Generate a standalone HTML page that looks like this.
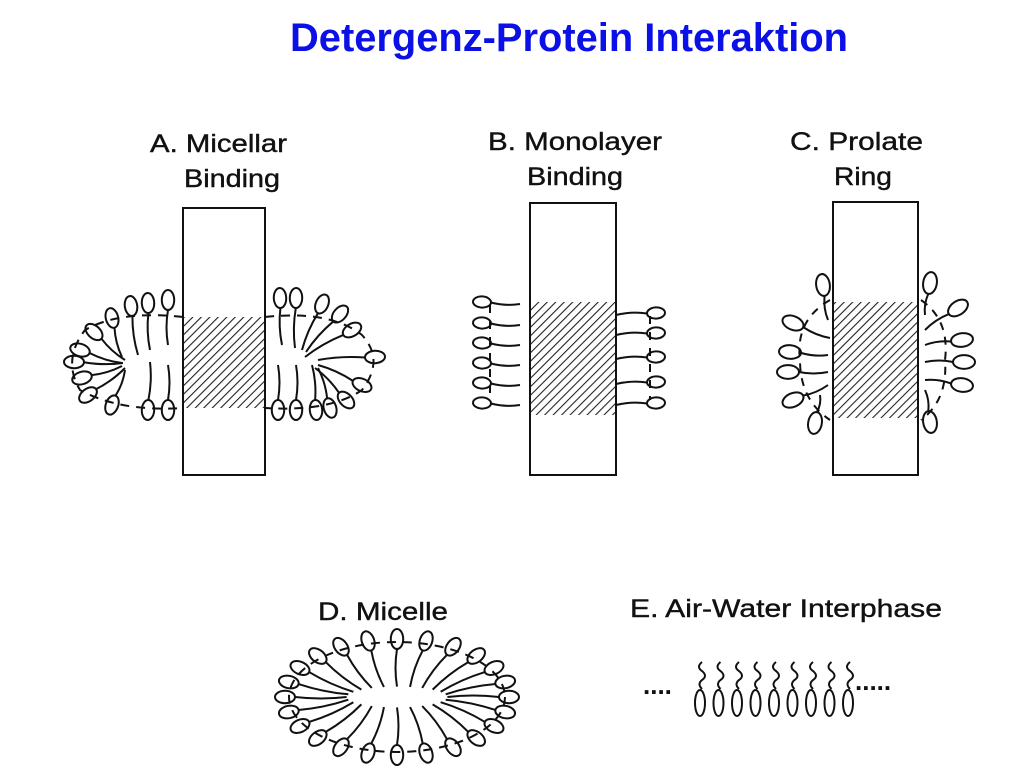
<!DOCTYPE html>
<html><head><meta charset="utf-8"><style>
html,body{margin:0;padding:0;background:#fff;}
svg{display:block;}
text{font-family:"Liberation Sans",Arial,sans-serif;}
</style></head><body>
<svg id="s" width="1036" height="772" viewBox="0 0 1036 772" xmlns="http://www.w3.org/2000/svg">
<defs>
<pattern id="h" patternUnits="userSpaceOnUse" width="6" height="6" patternTransform="rotate(45)">
<line x1="0" y1="0" x2="0" y2="6" stroke="#222" stroke-width="2.2"/>
</pattern>
</defs>
<text x="290" y="51" font-size="40" font-weight="bold" fill="#0a10e6" textLength="558" lengthAdjust="spacingAndGlyphs">Detergenz-Protein Interaktion</text>
<g font-size="25" fill="#111" stroke="#111" stroke-width="0.4">
<text x="150" y="152" textLength="137" lengthAdjust="spacingAndGlyphs">A. Micellar</text>
<text x="184" y="187" textLength="96" lengthAdjust="spacingAndGlyphs">Binding</text>
<text x="488" y="150" textLength="174" lengthAdjust="spacingAndGlyphs">B. Monolayer</text>
<text x="527" y="185" textLength="96" lengthAdjust="spacingAndGlyphs">Binding</text>
<text x="790" y="150" textLength="133" lengthAdjust="spacingAndGlyphs">C. Prolate</text>
<text x="834" y="185" textLength="58" lengthAdjust="spacingAndGlyphs">Ring</text>
<text x="318" y="620" textLength="130" lengthAdjust="spacingAndGlyphs">D. Micelle</text>
<text x="630" y="617" textLength="312" lengthAdjust="spacingAndGlyphs">E. Air-Water Interphase</text>
</g>
<g fill="none" stroke="#111" stroke-width="2">
<rect x="183" y="208" width="82" height="267"/>
<rect x="184" y="317" width="80" height="91" fill="url(#h)" stroke="none"/>
<rect x="530" y="203" width="86" height="272"/>
<rect x="531" y="302" width="84" height="113" fill="url(#h)" stroke="none"/>
<rect x="833" y="202" width="85" height="273"/>
<rect x="834" y="302" width="83" height="116" fill="url(#h)" stroke="none"/>
</g>
<g id="g" fill="none" stroke="#111" stroke-width="2"></g>
<g fill="#111" font-size="26" font-weight="bold"><text x="643" y="694">....</text><text x="855" y="690">.....</text></g>
</svg>
<script>
var g=document.getElementById('g'),NS='http://www.w3.org/2000/svg';
function el(t,a){var e=document.createElementNS(NS,t);for(var k in a)e.setAttribute(k,a[k]);g.appendChild(e);return e;}
// head center (hx,hy), tail end (tx,ty)
function lp(hx,hy,tx,ty,hr){hr=hr||9;var dx=tx-hx,dy=ty-hy,d=Math.sqrt(dx*dx+dy*dy),c=dx/d,s=dy/d;
 var ang=Math.atan2(dy,dx)*180/Math.PI;
 el('ellipse',{cx:hx,cy:hy,rx:hr,ry:hr*0.62,transform:'rotate('+ang+' '+hx+' '+hy+')'});
 var x=hx+c*hr,y=hy+s*hr,mx=(x+tx)/2-s*3,my=(y+ty)/2+c*3;
 el('path',{d:'M'+x+' '+y+' Q'+mx+' '+my+' '+tx+' '+ty});}
// A
el('path',{d:'M183 317 Q120 310 85 330 Q62 360 80 390 Q120 412 183 408','stroke-dasharray':'9 7'});
el('path',{d:'M265 317 Q330 310 362 335 Q385 360 362 390 Q330 412 265 408','stroke-dasharray':'9 7'});
[[168,300,168,345],[148,303,150,350],[131,306,138,355],[112,318,122,357],[94,332,125,360],[80,350,122,363],[74,362,123,363],[82,378,122,366],[88,395,125,368],[112,405,125,370],[148,410,150,362],[168,410,168,365]].forEach(function(p){lp(p[0],p[1],p[2],p[3],10);});
[[280,298,282,345],[296,298,295,348],[322,304,302,350],[340,314,306,352],[352,330,305,357],[375,357,318,360],[362,385,318,365],[346,400,315,368],[330,408,318,368],[316,410,312,365],[296,410,296,365],[278,410,278,365]].forEach(function(p){lp(p[0],p[1],p[2],p[3],10);});
// B
[302,323,343,363,383,403].forEach(function(y){lp(482,y,520,y+2,9);});
el('line',{x1:490,y1:305,x2:490,y2:400,'stroke-dasharray':'8 8'});
[313,333,357,382,403].forEach(function(y){lp(656,y,616,y+2,9);});
el('line',{x1:650,y1:316,x2:650,y2:400,'stroke-dasharray':'8 8'});
// C
el('path',{d:'M830 300 Q795 320 800 360 Q800 400 830 420','stroke-dasharray':'8 7'});
el('path',{d:'M921 300 Q950 320 945 360 Q948 400 921 420','stroke-dasharray':'8 7'});
[[823,285,828,320],[793,323,830,338],[790,352,828,355],[788,372,828,372],[793,400,828,385],[815,423,820,395]].forEach(function(p){lp(p[0],p[1],p[2],p[3],11);});
[[930,283,925,315],[958,308,925,330],[962,340,925,345],[964,362,925,362],[962,385,925,380],[930,422,925,390]].forEach(function(p){lp(p[0],p[1],p[2],p[3],11);});
// D
el('ellipse',{cx:397,cy:697,rx:108,ry:55,'stroke-dasharray':'9 7'});
for(var a=0;a<360;a+=15){var r=a*Math.PI/180,x=397+112*Math.cos(r),y=697+58*Math.sin(r);
 lp(x,y,397+(x-397)*0.45,697+(y-697)*0.18,10);}
// E
for(var i=0;i<9;i++){var x=700+i*18.5;
 el('path',{d:'M'+(x+2)+' 662 q-6 5 0 9 q6 5 0 9 q-5 4 0 9'});
 el('ellipse',{cx:x,cy:703,rx:5,ry:13});}
</script>
</body></html>
